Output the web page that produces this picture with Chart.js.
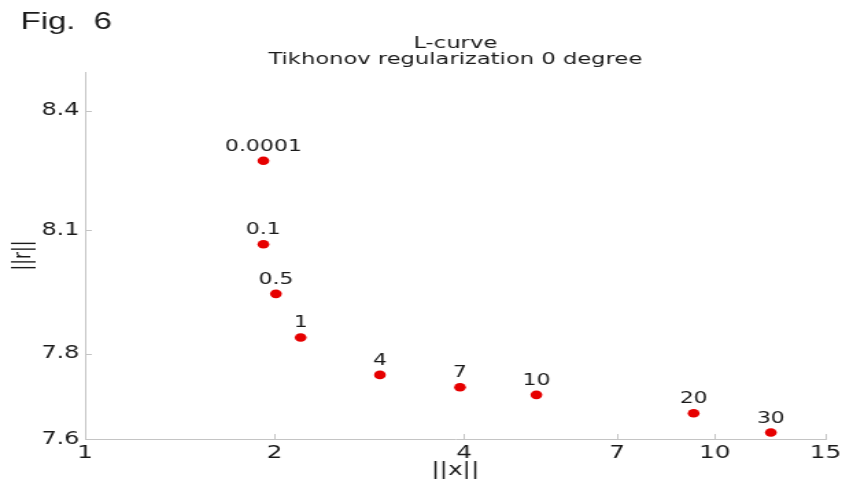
<!DOCTYPE html>
<html><head><meta charset="utf-8">
<script src="https://cdn.jsdelivr.net/npm/chart.js@4/dist/chart.umd.min.js"></script>
<style>
html,body{margin:0;padding:0;background:#fff;overflow:hidden}
#wrap{position:absolute;left:0;top:0;width:614px;height:483px;transform:scaleX(1.37134);transform-origin:0 0}
</style></head><body>
<div id="wrap"><canvas id="c"></canvas></div>
<script>
// ---- data ----
const pointLabels = ['0.0001', '0.1', '0.5', '1', '4', '7', '10', '20', '30'];
const xNorm = [1.92, 1.92, 2.01, 2.20, 2.94, 3.94, 5.21, 9.26, 12.28];
const yNorm = [8.273, 8.065, 7.944, 7.839, 7.750, 7.721, 7.703, 7.660, 7.615];
const xTicks = [1, 2, 4, 7, 10, 15];
const yTicks = [7.6, 7.8, 8.1, 8.4];
const titleLines = ['L-curve', 'Tikhonov regularization 0 degree'];
const figLabel = 'Fig.  6';
const xTitle = '||x||';
const yTitle = '||r||';

const FONT = "'DejaVu Sans', Verdana, sans-serif";
const TXT = '#1a1a1a';
const AXIS = '#c4c4c4';

const innerTicks = {
  id: 'innerTicks',
  afterDraw(chart) {
    const {ctx, chartArea: a, scales: {x, y}} = chart;
    ctx.save();
    ctx.strokeStyle = AXIS;
    ctx.lineWidth = 1;
    ctx.beginPath();
    xTicks.forEach(v => {
      if (v === xTicks[0]) return;
      const px = Math.round(x.getPixelForValue(v)) + 0.5;
      ctx.moveTo(px, a.bottom); ctx.lineTo(px, a.bottom - 5);
    });
    yTicks.forEach(v => {
      if (v === yTicks[0]) return;
      const py = Math.round(y.getPixelForValue(v)) + 0.5;
      ctx.moveTo(a.left, py); ctx.lineTo(a.left + 5, py);
    });
    ctx.stroke();
    ctx.restore();
  }
};

const labelPlugin = {
  id: 'pointLabelsPlugin',
  afterDatasetsDraw(chart) {
    const ctx = chart.ctx;
    const meta = chart.getDatasetMeta(0);
    ctx.save();
    ctx.fillStyle = TXT;
    ctx.font = '16px ' + FONT;
    ctx.textAlign = 'center';
    ctx.textBaseline = 'alphabetic';
    meta.data.forEach((el, i) => {
      ctx.fillText(pointLabels[i], el.x, el.y - 10);
    });
    ctx.restore();
  },
  afterDraw(chart) {
    const ctx = chart.ctx;
    ctx.save();
    ctx.fillStyle = TXT;
    ctx.font = "24px 'Liberation Sans', Arial, sans-serif";
    ctx.textAlign = 'left';
    ctx.textBaseline = 'alphabetic';
    ctx.fillText(figLabel, 15, 29);
    ctx.restore();
  }
};

new Chart(document.getElementById('c'), {
  type: 'scatter',
  data: {
    datasets: [{
      data: xNorm.map((v, i) => ({x: v, y: yNorm[i]})),
      backgroundColor: '#e60000',
      borderColor: '#e60000',
      pointRadius: 4.3,
      pointHoverRadius: 4.3,
      borderWidth: 0
    }]
  },
  options: {
    responsive: true,
    maintainAspectRatio: false,
    animation: false,
    events: [],
    layout: {padding: {top: 0, right: 12, bottom: 0, left: 0}},
    plugins: {
      legend: {display: false},
      tooltip: {enabled: false},
      title: {
        display: true,
        fullSize: false,
        text: titleLines,
        color: TXT,
        font: {family: FONT, size: 16.5, weight: 'normal', lineHeight: 0.97},
        padding: {top: 36, bottom: 4}
      }
    },
    scales: {
      x: {
        type: 'logarithmic',
        min: 1, max: 15,
        afterBuildTicks: s => { s.ticks = xTicks.map(v => ({value: v})); },
        afterFit: s => { s.height = 44; s.paddingRight = 0; s.paddingLeft = 0; },
        grid: {display: false, drawTicks: false},
        border: {display: true, color: AXIS, width: 1},
        ticks: {
          autoSkip: false, maxRotation: 0, padding: 4, color: TXT,
          font: {family: FONT, size: 18},
          callback: v => String(v)
        },
        title: {display: true, text: xTitle, color: TXT, font: {family: FONT, size: 18}, padding: {top: 0, bottom: 2}}
      },
      y: {
        type: 'logarithmic',
        min: 7.6, max: 8.5,
        afterBuildTicks: s => { s.ticks = yTicks.map(v => ({value: v})); },
        afterFit: s => { s.width = 62; },
        grid: {display: false, drawTicks: false},
        border: {display: true, color: AXIS, width: 1},
        ticks: {
          autoSkip: false, padding: 4, color: TXT,
          font: {family: FONT, size: 17.5},
          callback: v => Number(v).toFixed(1)
        },
        title: {display: true, text: yTitle, color: TXT, font: {family: FONT, size: 17}, padding: {top: 7, bottom: 0}}
      }
    }
  },
  plugins: [innerTicks, labelPlugin]
});
</script>
</body></html>
